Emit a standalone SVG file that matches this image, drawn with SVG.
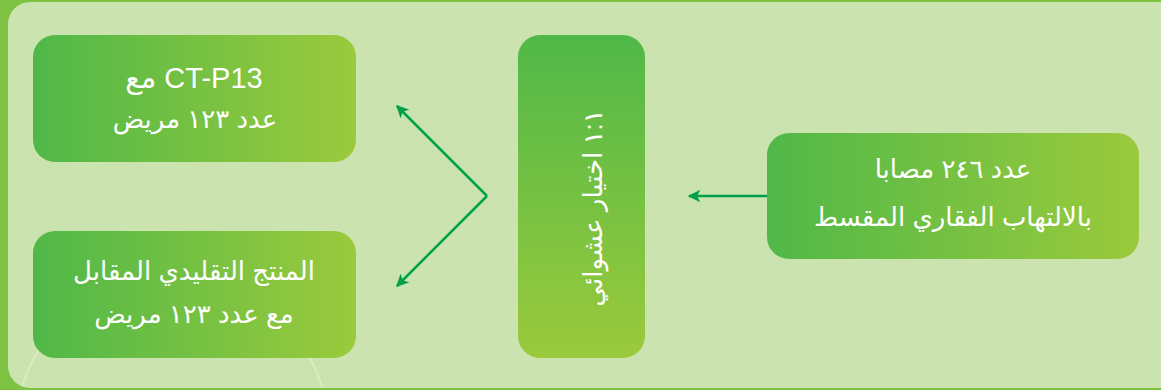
<svg xmlns="http://www.w3.org/2000/svg" width="1161" height="390" viewBox="0 0 1161 390">
<defs>
<linearGradient id="gh" x1="0" y1="0" x2="1" y2="0">
<stop offset="0" stop-color="#50b848"/>
<stop offset="1" stop-color="#9bca3c"/>
</linearGradient>
<linearGradient id="gv" x1="0" y1="0" x2="0" y2="1">
<stop offset="0" stop-color="#50b848"/>
<stop offset="1" stop-color="#9bca3c"/>
</linearGradient>
<marker id="ah" viewBox="0 0 10 10" refX="9" refY="5" markerWidth="5" markerHeight="5" orient="auto" markerUnits="strokeWidth">
<path d="M0,0 L10,5 L0,10 L2.5,5 Z" fill="#00a14b"/>
</marker>
<clipPath id="inner"><rect x="8" y="2" width="1180" height="386" rx="22"/></clipPath>
<style>
.box{stroke:none}
.t{font-family:"Liberation Sans","DejaVu Sans",sans-serif;font-size:26px;fill:#ffffff;text-anchor:middle}
.c{fill:none;stroke:#00a14b;stroke-width:2.5}
</style>
</defs>
<rect x="0" y="0" width="1161" height="390" fill="#7dc242"/>
<rect x="8" y="2" width="1180" height="386" rx="22" fill="#cbe3ae"/>
<circle cx="172" cy="433" r="157" fill="none" stroke="#ddeec9" stroke-width="1.5" clip-path="url(#inner)"/>
<g id="connectors">
<line class="c" x1="767" y1="196" x2="689" y2="196" marker-end="url(#ah)"/>
<polyline class="c" points="487,196 397,106" marker-end="url(#ah)"/>
<polyline class="c" points="487,196 397,286" marker-end="url(#ah)"/>
</g>
<g id="box-ct">
<rect class="box" x="33" y="35" width="323" height="127" rx="22" fill="url(#gh)"/>
<text class="t" x="194" y="88" direction="rtl" style="font-size:29px">CT-P13 مع</text>
<text class="t" x="195" y="128" direction="rtl">عدد ١٢٣ مريض</text>
</g>
<g id="box-ref">
<rect class="box" x="33" y="231" width="323" height="127" rx="22" fill="url(#gh)"/>
<text class="t" x="194" y="280" direction="rtl">المنتج التقليدي المقابل</text>
<text class="t" x="194" y="323" direction="rtl">مع عدد ١٢٣ مريض</text>
</g>
<g id="box-rand">
<rect class="box" x="518" y="35" width="127" height="323" rx="22" fill="url(#gv)"/>
<text class="t" transform="translate(602,208) rotate(-90)" direction="rtl">١:١ اختيار عشوائي</text>
</g>
<g id="box-pat">
<rect class="box" x="767" y="133" width="372" height="126" rx="22" fill="url(#gh)"/>
<text class="t" x="953" y="178" direction="rtl">عدد ٢٤٦ مصابا</text>
<text class="t" x="953" y="226" direction="rtl">بالالتهاب الفقاري المقسط</text>
</g>
</svg>
